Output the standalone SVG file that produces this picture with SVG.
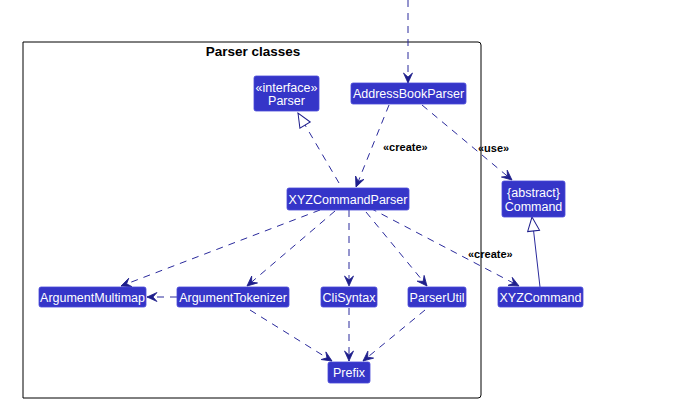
<svg xmlns="http://www.w3.org/2000/svg" width="687" height="407" viewBox="0 0 687 407">
<style>
.node rect{fill:#3535c8;stroke:#4a4ad8;stroke-width:0.8}
.node text{fill:#ffffff;font-family:"Liberation Sans",Arial,sans-serif;font-size:12.5px;text-anchor:middle}
.e{fill:none;stroke:#2a2a9c;stroke-width:1;stroke-dasharray:7,6}
.s{fill:none;stroke:#2a2a9c;stroke-width:1}
.lbl{font-family:"Liberation Sans",Arial,sans-serif;font-size:11px;font-weight:bold;fill:#000}
</style>
<defs>
<marker id="arr" markerUnits="userSpaceOnUse" markerWidth="14" markerHeight="12" viewBox="-11 -6 12 12" refX="0" refY="0" orient="auto">
<path d="M0,0 L-10,-4.5 L-6,0 L-10,4.5 Z" fill="#1e1e8c" stroke="#1e1e8c" stroke-width="0.8"/>
</marker>
<marker id="tri" markerUnits="userSpaceOnUse" markerWidth="18" markerHeight="16" viewBox="-16 -8 17 16" refX="0" refY="0" orient="auto">
<path d="M0,0 L-14,-6 L-14,6 Z" fill="#ffffff" stroke="#1e1e8c" stroke-width="1"/>
</marker>
</defs>
<rect width="687" height="407" fill="#ffffff"/>
<g id="package">
<path d="M23,42 H478 Q481,42 481,45 V395 Q481,398 478,398 H23 Z" fill="none" stroke="#000" stroke-width="1"/>
<text x="253" y="56" font-family="Liberation Sans,Arial,sans-serif" font-size="13.5" font-weight="bold" text-anchor="middle" fill="#000">Parser classes</text>
</g>
<g id="connectors">
<path class="e" d="M408,0 L408,83" marker-end="url(#arr)"/>
<path class="e" d="M389,105 L356,187" marker-end="url(#arr)"/>
<path class="e" d="M422,105 L512,180" marker-end="url(#arr)"/>
<path class="e" d="M339,183 L298,113" marker-end="url(#tri)"/>
<path class="e" d="M320,210 L121,286" marker-end="url(#arr)"/>
<path class="e" d="M335,211 L247,286" marker-end="url(#arr)"/>
<path class="e" d="M349,210 L349,286" marker-end="url(#arr)"/>
<path class="e" d="M366,212 L427,286" marker-end="url(#arr)"/>
<path class="e" d="M370,208 L519,286" marker-end="url(#arr)"/>
<path class="e" d="M177,297 L147,297" marker-end="url(#arr)"/>
<path class="e" d="M250,310 L332,361" marker-end="url(#arr)"/>
<path class="e" d="M349,308 L349,361" marker-end="url(#arr)"/>
<path class="e" d="M425,310 L363,361" marker-end="url(#arr)"/>
<path class="s" d="M540,287 L532,217" marker-end="url(#tri)"/>
<text class="lbl" x="383" y="151">«create»</text>
<text class="lbl" x="478" y="152">«use»</text>
<text class="lbl" x="468" y="258">«create»</text>
</g>
<g id="Parser" class="node"><rect x="254" y="76" width="65" height="35" rx="2"/><text x="286.5" y="92">«interface»</text><text x="286.5" y="105">Parser</text></g>
<g id="AddressBookParser" class="node"><rect x="351" y="83" width="115" height="21" rx="2"/><text x="408.5" y="98">AddressBookParser</text></g>
<g id="XYZCommandParser" class="node"><rect x="287" y="188" width="122" height="22" rx="2"/><text x="348" y="203.5">XYZCommandParser</text></g>
<g id="Command" class="node"><rect x="502" y="181" width="63" height="36" rx="2"/><text x="533.5" y="197">{abstract}</text><text x="533.5" y="211">Command</text></g>
<g id="ArgumentMultimap" class="node"><rect x="39" y="287" width="107" height="20" rx="2"/><text x="92.5" y="301.5">ArgumentMultimap</text></g>
<g id="ArgumentTokenizer" class="node"><rect x="177" y="287" width="112" height="20" rx="2"/><text x="233" y="301.5">ArgumentTokenizer</text></g>
<g id="CliSyntax" class="node"><rect x="321" y="287" width="56" height="20" rx="2"/><text x="349" y="301.5">CliSyntax</text></g>
<g id="ParserUtil" class="node"><rect x="408" y="287" width="58" height="20" rx="2"/><text x="437" y="301.5">ParserUtil</text></g>
<g id="XYZCommand" class="node"><rect x="498" y="287" width="85" height="20" rx="2"/><text x="540.5" y="301.5">XYZCommand</text></g>
<g id="Prefix" class="node"><rect x="328" y="362" width="42" height="21" rx="2"/><text x="349" y="377">Prefix</text></g>
</svg>
